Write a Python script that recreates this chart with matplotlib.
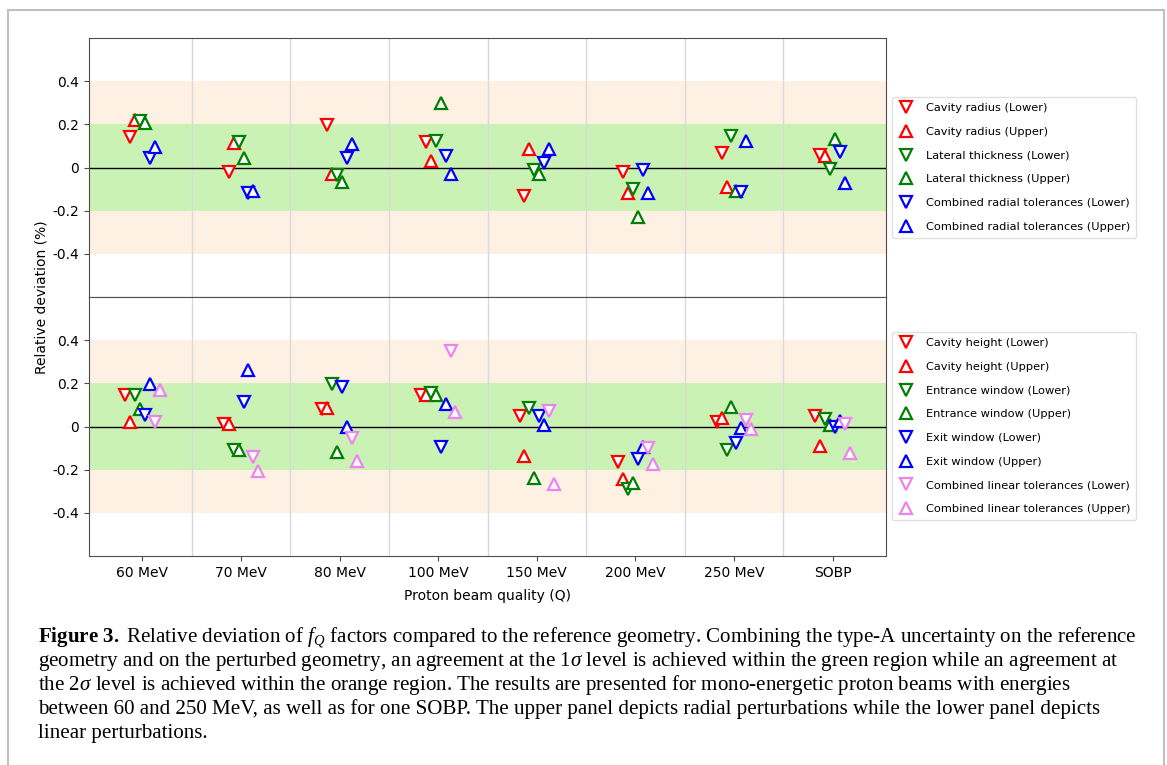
import matplotlib
matplotlib.use("Agg")
import matplotlib.pyplot as plt
import numpy as np
from matplotlib.patches import Rectangle

# ---------------- data ----------------
categories = ["60 MeV", "70 MeV", "80 MeV", "100 MeV", "150 MeV", "200 MeV", "250 MeV", "SOBP"]

# upper panel: radial perturbations
cavity_radius_lower = [0.14, -0.02, 0.195, 0.12, -0.13, -0.02, 0.065, 0.06]
cavity_radius_upper = [0.22, 0.115, -0.03, 0.03, 0.085, -0.12, -0.09, 0.055]
lateral_thickness_lower = [0.215, 0.12, -0.035, 0.125, -0.01, -0.10, 0.145, -0.005]
lateral_thickness_upper = [0.205, 0.045, -0.065, 0.30, -0.03, -0.23, -0.11, 0.13]
radial_combined_lower = [0.045, -0.12, 0.045, 0.055, 0.02, -0.01, -0.115, 0.07]
radial_combined_upper = [0.095, -0.11, 0.11, -0.03, 0.085, -0.12, 0.125, -0.07]

# lower panel: linear perturbations
cavity_height_lower = [0.145, 0.01, 0.08, 0.145, 0.05, -0.165, 0.02, 0.05]
cavity_height_upper = [0.02, 0.01, 0.085, 0.145, -0.135, -0.245, 0.04, -0.09]
entrance_window_lower = [0.145, -0.11, 0.195, 0.155, 0.085, -0.29, -0.11, 0.035]
entrance_window_upper = [0.08, -0.11, -0.12, 0.145, -0.24, -0.26, 0.09, 0.005]
exit_window_lower = [0.055, 0.115, 0.185, -0.095, 0.05, -0.15, -0.075, 0.0]
exit_window_upper = [0.195, 0.26, 0.0, 0.105, 0.005, -0.095, -0.005, 0.025]
linear_combined_lower = [0.02, -0.14, -0.055, 0.35, 0.07, -0.10, 0.03, 0.01]
linear_combined_upper = [0.17, -0.205, -0.16, 0.065, -0.265, -0.175, -0.01, -0.125]

radial_series = [
    ("Cavity radius (Lower)", cavity_radius_lower, "red", "v"),
    ("Cavity radius (Upper)", cavity_radius_upper, "red", "^"),
    ("Lateral thickness (Lower)", lateral_thickness_lower, "green", "v"),
    ("Lateral thickness (Upper)", lateral_thickness_upper, "green", "^"),
    ("Combined radial tolerances (Lower)", radial_combined_lower, "blue", "v"),
    ("Combined radial tolerances (Upper)", radial_combined_upper, "blue", "^"),
]
linear_series = [
    ("Cavity height (Lower)", cavity_height_lower, "red", "v"),
    ("Cavity height (Upper)", cavity_height_upper, "red", "^"),
    ("Entrance window (Lower)", entrance_window_lower, "green", "v"),
    ("Entrance window (Upper)", entrance_window_upper, "green", "^"),
    ("Exit window (Lower)", exit_window_lower, "blue", "v"),
    ("Exit window (Upper)", exit_window_upper, "blue", "^"),
    ("Combined linear tolerances (Lower)", linear_combined_lower, "violet", "v"),
    ("Combined linear tolerances (Upper)", linear_combined_upper, "violet", "^"),
]
yticks = [-0.4, -0.2, 0.0, 0.2, 0.4]
ytick_labels = ["-0.4", "-0.2", "0", "0.2", "0.4"]

caption_lines = [
    r"$\mathbf{Figure\ 3.}\ $Relative deviation of $f_Q$ factors compared to the reference geometry. Combining the type-A uncertainty on the reference",
    r"geometry and on the perturbed geometry, an agreement at the 1$\sigma$ level is achieved within the green region while an agreement at",
    r"the 2$\sigma$ level is achieved within the orange region. The results are presented for mono-energetic proton beams with energies",
    r"between 60 and 250 MeV, as well as for one SOBP. The upper panel depicts radial perturbations while the lower panel depicts",
    r"linear perturbations.",
]

# ---------------- style ----------------
plt.rcParams["font.family"] = ["DejaVu Sans"]
plt.rcParams["axes.unicode_minus"] = False
plt.rcParams["mathtext.fontset"] = "custom"
plt.rcParams["mathtext.rm"] = "Liberation Serif"
plt.rcParams["mathtext.it"] = "Liberation Serif:italic"
plt.rcParams["mathtext.bf"] = "Liberation Serif:bold"

W, H = 1167, 765
fig = plt.figure(figsize=(W / 100, H / 100), dpi=100)

def fx(px):
    return px / W

def fy(py):
    return 1 - py / H

left, right = fx(89), fx(886)
ax_top = fig.add_axes([left, fy(297), right - left, fy(38) - fy(297)])
ax_bot = fig.add_axes([left, fy(556), right - left, fy(297) - fy(556)], sharex=ax_top)

x = np.arange(len(categories))
spine_col = "0.3"

def draw_panel(ax, series):
    n = len(series)
    ax.axhspan(-0.4, 0.4, color="#fef0e3", lw=0, zorder=0)
    ax.axhspan(-0.2, 0.2, color="lime", alpha=0.2, lw=0, zorder=0.5)
    ax.axhline(0, color="black", lw=1.0, zorder=1)
    for k in range(len(categories) - 1):
        ax.axvline(k + 0.5, color="0.85", lw=1.0, zorder=0.8)
    handles = []
    for i, (lab, vals, col, mk) in enumerate(series):
        off = (i - (n - 1) / 2) * 0.05
        h, = ax.plot(x + off, vals, linestyle="none", marker=mk, ms=8,
                     mfc="white", mec=col, mew=1.6, label=lab, zorder=3)
        handles.append(h)
    ax.set_ylim(-0.6, 0.6)
    ax.set_yticks(yticks)
    ax.set_yticklabels(ytick_labels)
    ax.tick_params(axis="y", labelsize=10, length=3.5, color=spine_col)
    for s in ax.spines.values():
        s.set_color(spine_col)
    return handles

h_top = draw_panel(ax_top, radial_series)
h_bot = draw_panel(ax_bot, linear_series)

ax_bot.set_xticks(x)
ax_bot.set_xticklabels(categories)
ax_bot.tick_params(axis="x", labelsize=10, length=3.5, color=spine_col)
ax_top.tick_params(axis="x", bottom=False, labelbottom=False)

fig.text(fx(487.5), fy(596), "Proton beam quality (Q)", ha="center", va="center", fontsize=10)
fig.text(fx(42), fy(297), "Relative deviation (%)", ha="center", va="center", rotation=90, fontsize=10)

leg_kw = dict(loc="upper left", fontsize=8.2, frameon=True, labelspacing=1.2,
              handletextpad=1.05, borderpad=0.55, handlelength=1.35, borderaxespad=0)
leg1 = fig.legend(handles=h_top, bbox_to_anchor=(fx(892), fy(97)), **leg_kw)
leg2 = fig.legend(handles=h_bot, bbox_to_anchor=(fx(892), fy(332)), **leg_kw)
for lg in (leg1, leg2):
    lg.get_frame().set_edgecolor("0.85")
    lg.get_frame().set_linewidth(1.0)

# outer frame
fig.patches.append(Rectangle((fx(8), -0.05), fx(1163.5) - fx(8), fy(10) + 0.05,
                             transform=fig.transFigure, fill=False,
                             edgecolor="0.75", lw=1.5, zorder=-1))

# caption
baselines = [642, 666, 690, 714, 738]
for line, b in zip(caption_lines, baselines):
    fig.text(fx(38), fy(b), line, ha="left", va="baseline",
             fontsize=15.1, family="Liberation Serif")

fig.savefig("out.png", dpi=100)
